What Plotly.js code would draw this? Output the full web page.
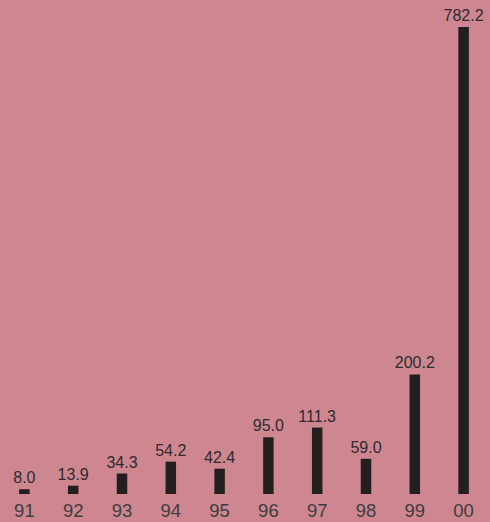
<!DOCTYPE html>
<html>
<head>
<meta charset="utf-8">
<script src="https://cdn.plot.ly/plotly-3.0.1.min.js"></script>
<style>
  html, body { margin: 0; padding: 0; background: #ce8791; }
  #chart { width: 490px; height: 522px; }
</style>
</head>
<body>
<div id="chart"></div>
<script>
// Yearly values, 1991–2000
const years = ['91', '92', '93', '94', '95', '96', '97', '98', '99', '00'];
const values = [8.0, 13.9, 34.3, 54.2, 42.4, 95.0, 111.3, 59.0, 200.2, 782.2];

const bg = '#ce8791';

Plotly.newPlot('chart', [{
  type: 'bar',
  x: years,
  y: values,
  marker: { color: '#231f20' },
  texttemplate: '%{y:.1f}',
  textposition: 'outside',
  constraintext: 'none',
  cliponaxis: false,
  textfont: { family: 'Liberation Sans, Arial, sans-serif', size: 16, color: '#2e2a2b' },
  hoverinfo: 'skip'
}], {
  width: 490,
  height: 522,
  margin: { l: 0, r: 2, t: 0, b: 28 },
  paper_bgcolor: bg,
  plot_bgcolor: bg,
  bargap: 0.785,
  showlegend: false,
  xaxis: {
    type: 'category',
    showline: false,
    showgrid: false,
    zeroline: false,
    ticks: '',
    ticklabelstandoff: 3,
    tickfont: { family: 'Liberation Sans, Arial, sans-serif', size: 18.5, color: '#403c3d' }
  },
  yaxis: {
    range: [0, 827.4],
    visible: false,
    showgrid: false,
    zeroline: false
  }
}, { displayModeBar: false, staticPlot: true });
</script>
</body>
</html>
